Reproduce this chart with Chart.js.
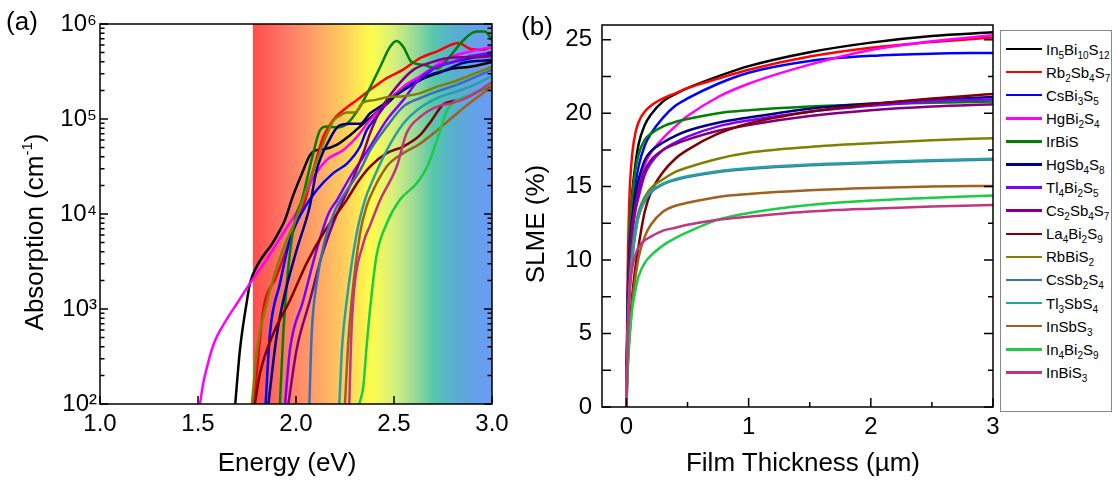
<!doctype html>
<html lang="en">
<head>
<meta charset="utf-8">
<title>Absorption and SLME of ternary sulfides</title>
<style>
  * { margin: 0; padding: 0; }
  body {
    width: 1117px; height: 483px; position: relative; overflow: hidden;
    background: #fff; color: #000;
    font-family: 'Liberation Sans', Arial, sans-serif;
  }
  canvas { position: absolute; top: 0; }
  #chartA { left: 0; }
  #chartB { left: 500px; }
  .lbl {
    position: absolute; font-size: 26px; line-height: 1; white-space: nowrap;
    transform: translate(-50%, -50%);
  }
  .rot { transform: translate(-50%, -50%) rotate(-90deg); }
  .lbl sup { font-size: 15px; position: relative; top: -11px; vertical-align: baseline; }
  #legend {
    position: absolute; left: 1000px; top: 30px; width: 112px; height: 382px;
    border: 1px solid #888; box-sizing: border-box; padding-top: 6.5px;
  }
  .row { height: 23.1px; display: flex; align-items: center; font-size: 15px; line-height: 1; }
  .swatch { display: inline-block; width: 36px; height: 2.5px; margin-left: 5px; margin-right: 4px; }
  .row sub { font-size: 10px; position: relative; top: 4px; vertical-align: baseline; }
</style>
</head>
<body>
  <canvas id="chartB" width="500" height="483"></canvas>
  <canvas id="chartA" width="520" height="483"></canvas>

  <div class="lbl" style="left:22px; top:21px">(a)</div>
  <div class="lbl" style="left:537px; top:26px">(b)</div>
  <div class="lbl rot" style="left:34px; top:232px">Absorption (cm<sup>-1</sup>)</div>
  <div class="lbl" style="left:287px; top:462px">Energy (eV)</div>
  <div class="lbl rot" style="left:535px; top:224px">SLME (%)</div>
  <div class="lbl" style="left:803px; top:462px">Film Thickness (µm)</div>
  <div id="legend"></div>

<script src="https://cdn.jsdelivr.net/npm/chart.js"></script>
<script>
// ---- ticks ----
const energyTicks = [1.0, 1.5, 2.0, 2.5, 3.0];
const absorptionTicks = [1e2, 1e3, 1e4, 1e5, 1e6];
const thicknessTicks = [0, 1, 2, 3];
const slmeTicks = [0, 5, 10, 15, 20, 25];

// ---- compounds (legend order) ----
const compounds = ['In5Bi10S12', 'Rb2Sb4S7', 'CsBi3S5', 'HgBi2S4', 'IrBiS', 'HgSb4S8', 'Tl4Bi2S5',
  'Cs2Sb4S7', 'La4Bi2S9', 'RbBiS2', 'CsSb2S4', 'Tl3SbS4', 'InSbS3', 'In4Bi2S9', 'InBiS3'];
const colors = ['#000000', '#ff0000', '#0000ff', '#ff00ff', '#008000', '#000080', '#8000ff',
  '#800080', '#800000', '#808000', '#3a6fb5', '#26a0a0', '#a0601e', '#1ccc44', '#c03482'];

// ---- (a) absorption, [energy (eV), alpha (cm^-1)] ----
const absIn5Bi10S12 = [[1.69,100],[1.714,372],[1.75,1230],[1.765,1860],[1.80,2820],[1.84,3800],[1.87,4570],[1.918,6760],[1.944,8710],[1.986,1.58e4],[2.037,2.88e4],[2.071,4.17e4],[2.10,4.68e4],[2.14,4.79e4],[2.21,5.37e4],[2.276,6.76e4],[2.343,8.91e4],[2.40,1.12e5],[2.47,1.48e5],[2.547,2.09e5],[2.63,2.57e5],[2.72,3.02e5],[2.80,3.39e5],[2.888,3.55e5],[3.0,3.98e5]];
const absRb2Sb4S7 = [[1.785,100],[1.81,355],[1.833,977],[1.90,2190],[1.969,5370],[2.02,1.0e4],[2.037,1.2e4],[2.088,2.88e4],[2.139,6.46e4],[2.19,9.77e4],[2.24,1.23e5],[2.31,1.58e5],[2.394,2.14e5],[2.463,2.69e5],[2.547,3.31e5],[2.633,4.37e5],[2.718,5.13e5],[2.83,6.31e5],[2.888,5.5e5],[2.95,5.37e5],[3.0,5.75e5]];
const absCsBi3S5 = [[1.845,100],[1.867,550],[1.918,1860],[1.969,5370],[2.037,1.1e4],[2.105,1.78e4],[2.19,2.69e4],[2.26,3.39e4],[2.327,5.13e4],[2.36,7.59e4],[2.41,1.05e5],[2.50,1.78e5],[2.65,2.82e5],[2.72,3.55e5],[2.80,3.98e5],[2.888,4.37e5],[3.0,4.79e5]];
const absHgBi2S4 = [[1.51,100],[1.527,166],[1.545,240],[1.57,372],[1.59,479],[1.62,631],[1.655,832],[1.70,1150],[1.765,1860],[1.85,3310],[1.935,6310],[2.02,1.2e4],[2.08,2.24e4],[2.157,3.72e4],[2.24,4.68e4],[2.31,6.46e4],[2.378,9.77e4],[2.463,1.48e5],[2.547,2.19e5],[2.633,2.82e5],[2.72,3.72e5],[2.80,4.57e5],[2.888,5.13e5],[3.0,5.75e5]];
const absIrBiS = [[1.918,100],[1.935,550],[1.961,2750],[1.995,8710],[2.03,1.41e4],[2.06,2.51e4],[2.088,4.37e4],[2.122,7.59e4],[2.157,8.32e4],[2.21,8.13e4],[2.26,8.91e4],[2.327,1.35e5],[2.378,2.14e5],[2.43,3.55e5],[2.48,5.75e5],[2.514,6.61e5],[2.547,5.75e5],[2.59,3.98e5],[2.65,3.72e5],[2.72,3.39e5],[2.786,4.57e5],[2.854,6.76e5],[2.92,8.32e5],[2.964,8.32e5],[3.0,6.76e5]];
const absHgSb4S8 = [[1.859,100],[1.90,500],[1.935,1230],[2.003,4170],[2.07,1.2e4],[2.105,2.88e4],[2.17,6.03e4],[2.22,8.51e4],[2.276,8.91e4],[2.327,8.91e4],[2.378,1.15e5],[2.43,1.35e5],[2.51,1.78e5],[2.60,2.34e5],[2.68,2.88e5],[2.77,3.31e5],[2.85,3.89e5],[3.0,4.17e5]];
const absTl4Bi2S5 = [[1.944,100],[1.969,372],[2.037,1230],[2.105,4170],[2.165,1.0e4],[2.21,1.41e4],[2.276,2.45e4],[2.343,3.98e4],[2.378,5.13e4],[2.463,9.77e4],[2.547,1.58e5],[2.633,2.69e5],[2.72,3.55e5],[2.80,3.98e5],[2.888,4.57e5],[3.0,5.01e5]];
const absCs2Sb4S7 = [[1.961,100],[2.003,372],[2.071,1230],[2.13,3550],[2.18,7080],[2.23,1.26e4],[2.276,2.0e4],[2.343,4.37e4],[2.378,7.08e4],[2.43,1.23e5],[2.514,2.19e5],[2.60,3.31e5],[2.68,3.89e5],[2.77,4.37e5],[2.888,4.47e5],[3.0,4.57e5]];
const absLa4Bi2S9 = [[1.79,100],[1.816,209],[1.884,550],[1.969,1230],[2.054,3020],[2.14,6310],[2.259,1.41e4],[2.32,2.24e4],[2.378,3.16e4],[2.463,4.37e4],[2.547,5.13e4],[2.633,6.76e4],[2.69,9.55e4],[2.75,1.41e5],[2.82,1.58e5],[2.888,1.78e5],[3.0,2.29e5]];
const absRbBiS2 = [[1.775,100],[1.80,355],[1.85,1150],[1.927,3890],[2.0,8910],[2.088,2.88e4],[2.15,6.31e4],[2.19,9.55e4],[2.22,1.07e5],[2.26,1.17e5],[2.30,1.17e5],[2.34,1.48e5],[2.40,1.58e5],[2.47,1.7e5],[2.55,1.74e5],[2.63,1.86e5],[2.72,2.19e5],[2.80,2.45e5],[2.888,2.88e5],[3.0,3.55e5]];
const absCsSb2S4 = [[2.068,100],[2.08,550],[2.105,1860],[2.148,5370],[2.2,1.1e4],[2.26,1.78e4],[2.327,2.88e4],[2.378,4.68e4],[2.463,8.32e4],[2.547,1.35e5],[2.633,1.66e5],[2.72,1.95e5],[2.82,2.29e5],[3.0,3.31e5]];
const absTl3SbS4 = [[2.221,100],[2.235,398],[2.259,1230],[2.31,6310],[2.352,1.41e4],[2.378,1.95e4],[2.463,4.68e4],[2.547,8.91e4],[2.615,1.23e5],[2.72,1.66e5],[2.82,1.95e5],[2.888,2.19e5],[3.0,2.82e5]];
const absInSbS3 = [[2.25,100],[2.265,398],[2.284,1230],[2.327,6310],[2.36,1.2e4],[2.378,1.51e4],[2.463,3.16e4],[2.547,4.37e4],[2.633,5.5e4],[2.72,7.59e4],[2.80,1.05e5],[2.888,1.48e5],[3.0,2.19e5]];
const absIn4Bi2S9 = [[2.323,100],[2.343,151],[2.36,398],[2.378,1000],[2.41,3550],[2.463,7940],[2.53,1.41e4],[2.615,2.09e4],[2.67,3.16e4],[2.72,6.03e4],[2.77,1.23e5],[2.82,1.58e5],[2.888,1.78e5],[3.0,2.34e5]];
const absInBiS3 = [[2.272,100],[2.28,398],[2.292,1230],[2.343,4900],[2.378,7590],[2.43,1.41e4],[2.514,3.16e4],[2.564,7.08e4],[2.633,1.05e5],[2.72,1.35e5],[2.80,1.48e5],[2.888,1.74e5],[3.0,2.45e5]];
const absorption = [absIn5Bi10S12, absRb2Sb4S7, absCsBi3S5, absHgBi2S4, absIrBiS, absHgSb4S8, absTl4Bi2S5,
  absCs2Sb4S7, absLa4Bi2S9, absRbBiS2, absCsSb2S4, absTl3SbS4, absInSbS3, absIn4Bi2S9, absInBiS3];

// ---- (b) SLME (%) vs film thickness (um) ----
const thickness = [0, 0.005, 0.01, 0.02, 0.03, 0.05, 0.075, 0.1, 0.15, 0.2, 0.3, 0.4, 0.5, 0.75, 1, 1.5, 2, 2.5, 3];
const slmeIn5Bi10S12 = [0, 4, 7, 10.5, 12.5, 14.8, 16.6, 17.9, 19.2, 19.9, 20.8, 21.3, 21.7, 22.5, 23.2, 24.15, 24.8, 25.25, 25.5];
const slmeRb2Sb4S7 = [0, 5, 9, 13, 15.3, 17.4, 18.7, 19.4, 20.1, 20.5, 21.0, 21.35, 21.7, 22.35, 22.95, 23.85, 24.45, 24.85, 25.15];
const slmeCsBi3S5 = [0, 3.5, 6.5, 9.5, 11.5, 13.5, 15.2, 16.4, 17.8, 18.6, 19.7, 20.5, 21.0, 22.0, 22.75, 23.55, 23.9, 24.05, 24.1];
const slmeHgBi2S4 = [0, 3, 5.5, 8, 9.8, 12, 13.8, 15.0, 16.5, 17.3, 18.3, 19.1, 19.8, 21.1, 22.0, 23.3, 24.3, 24.9, 25.3];
const slmeIrBiS = [0, 4, 7, 10.5, 12.5, 14.5, 16.2, 17.2, 18.2, 18.6, 19.1, 19.4, 19.6, 20.0, 20.2, 20.45, 20.6, 20.7, 20.8];
const slmeHgSb4S8 = [0, 3.5, 6.5, 9.5, 11.3, 13, 14.6, 15.5, 16.8, 17.4, 18.0, 18.45, 18.8, 19.35, 19.7, 20.3, 20.65, 20.9, 21.1];
const slmeTl4Bi2S5 = [0, 3, 5.5, 8.5, 10.2, 12, 13.4, 14.3, 15.8, 16.6, 17.5, 18.0, 18.4, 19.1, 19.5, 20.1, 20.5, 20.8, 20.95];
const slmeCs2Sb4S7 = [0, 3, 6, 9, 10.8, 12.5, 13.9, 14.8, 16.1, 16.8, 17.5, 17.9, 18.2, 18.8, 19.2, 19.8, 20.2, 20.45, 20.6];
const slmeLa4Bi2S9 = [0, 1.5, 2.8, 4.5, 5.8, 7.8, 9.6, 11.0, 13.3, 14.6, 16.0, 16.9, 17.5, 18.6, 19.3, 20.1, 20.6, 21.0, 21.3];
const slmeRbBiS2 = [0, 2.5, 4.5, 7, 8.7, 10.8, 12.3, 13.3, 14.3, 14.9, 15.5, 16.0, 16.3, 16.9, 17.3, 17.7, 17.95, 18.15, 18.3];
const slmeCsSb2S4 = [0, 2.5, 4.5, 7, 8.5, 10.3, 11.9, 13.0, 14.0, 14.6, 15.15, 15.45, 15.65, 16.0, 16.2, 16.45, 16.6, 16.75, 16.85];
const slmeTl3SbS4 = [0, 2.5, 4.5, 7, 8.5, 10.3, 11.9, 13.0, 14.1, 14.7, 15.2, 15.5, 15.7, 16.05, 16.25, 16.5, 16.65, 16.8, 16.9];
const slmeInSbS3 = [0, 1.5, 2.5, 4, 5.3, 7.3, 8.9, 10.2, 11.6, 12.4, 13.3, 13.7, 13.9, 14.3, 14.5, 14.75, 14.9, 15.0, 15.05];
const slmeIn4Bi2S9 = [0, 1.5, 2.8, 4.2, 5.2, 6.8, 8.0, 8.9, 9.8, 10.3, 11.0, 11.5, 11.9, 12.75, 13.2, 13.75, 14.05, 14.25, 14.4];
const slmeInBiS3 = [0, 2.5, 4.5, 6.8, 8.2, 9.6, 10.4, 10.9, 11.35, 11.6, 12.0, 12.2, 12.4, 12.75, 12.95, 13.3, 13.5, 13.65, 13.75];
const slme = [slmeIn5Bi10S12, slmeRb2Sb4S7, slmeCsBi3S5, slmeHgBi2S4, slmeIrBiS, slmeHgSb4S8, slmeTl4Bi2S5,
  slmeCs2Sb4S7, slmeLa4Bi2S9, slmeRbBiS2, slmeCsSb2S4, slmeTl3SbS4, slmeInSbS3, slmeIn4Bi2S9, slmeInBiS3];

// ---- shared styling ----
const tickFont = { family: "'Liberation Sans', Arial, sans-serif", size: 24 };
const sup = { 2: '\u00b2', 3: '\u00b3', 4: '\u2074', 5: '\u2075', 6: '\u2076' };

// visible-spectrum band behind panel (a)
const bandStart = 1.78;
const bandStops = [[1.78, '#ff4d4d'], [1.95, '#ff7a66'], [2.1, '#ffa268'], [2.25, '#ffcf5c'],
  [2.38, '#fffd4c'], [2.5, '#d6ef7c'], [2.6, '#9edc96'], [2.7, '#57c7ad'], [2.8, '#56b1cd'],
  [2.9, '#63a2e6'], [3.0, '#6b9bf8']];

const rainbow = {
  id: 'rainbow',
  beforeDatasetsDraw(chart) {
    const { ctx, chartArea: a, scales: { x } } = chart;
    const x0 = x.getPixelForValue(bandStart);
    const g = ctx.createLinearGradient(x0, 0, a.right, 0);
    bandStops.forEach(([e, c]) => g.addColorStop((e - bandStart) / (3 - bandStart), c));
    ctx.save();
    ctx.fillStyle = g;
    ctx.fillRect(x0, a.top, a.right - x0, a.bottom - a.top);
    ctx.restore();
  }
};

// box + inward tick marks, [value, length] lists per side
function makeFrame(spec) {
  return {
    id: 'frame',
    afterDatasetsDraw(chart) {
      const { ctx, chartArea: a, scales: { x, y } } = chart;
      ctx.save();
      ctx.strokeStyle = '#000';
      ctx.lineWidth = 1.5;
      ctx.beginPath();
      spec.bottom.forEach(([v, len]) => { const p = x.getPixelForValue(v); ctx.moveTo(p, a.bottom); ctx.lineTo(p, a.bottom - len); });
      spec.left.forEach(([v, len]) => { const p = y.getPixelForValue(v); ctx.moveTo(a.left, p); ctx.lineTo(a.left + len, p); });
      spec.right.forEach(([v, len]) => { const p = y.getPixelForValue(v); ctx.moveTo(a.right, p); ctx.lineTo(a.right - len, p); });
      ctx.stroke();
      ctx.strokeRect(a.left, a.top, a.right - a.left, a.bottom - a.top);
      ctx.restore();
    }
  };
}

function axis(extra, fit) {
  return Object.assign({
    grid: { display: false, drawTicks: false },
    border: { display: false },
    afterFit: fit
  }, extra);
}

// order: later compounds drawn on top
const lineStyle = (i) => ({
  borderColor: colors[i], borderWidth: 2.5, pointRadius: 0,
  cubicInterpolationMode: 'monotone', order: compounds.length - i
});

// ---- panel (a) ----
const logMinor = [];
for (let n = 2; n < 6; n++) for (let k = 1; k < 10; k++) logMinor.push([k * Math.pow(10, n), k === 1 ? 8 : 4.5]);
logMinor.push([1e6, 8]);

new Chart(document.getElementById('chartA'), {
  type: 'line',
  data: {
    datasets: compounds.map((name, i) => Object.assign({
      label: name,
      data: absorption[i].map(([x, y]) => ({ x, y }))
    }, lineStyle(i)))
  },
  options: {
    responsive: false, animation: false,
    layout: { padding: { top: 24, right: 28, left: 0, bottom: 0 } },
    plugins: { legend: { display: false }, tooltip: { enabled: false } },
    scales: {
      x: axis({
        type: 'linear', min: 1, max: 3,
        afterBuildTicks: s => { s.ticks = energyTicks.map(v => ({ value: v })); },
        ticks: { font: tickFont, color: '#000', padding: 6, maxRotation: 0, autoSkip: false, callback: v => v.toFixed(1) }
      }, s => { s.height = 79; s.paddingLeft = 0; s.paddingRight = 0; }),
      y: axis({
        type: 'logarithmic', min: 1e2, max: 1e6,
        afterBuildTicks: s => { s.ticks = absorptionTicks.map(v => ({ value: v })); },
        ticks: { font: tickFont, color: '#000', padding: 3, autoSkip: false, callback: v => '10' + sup[Math.round(Math.log10(v))] }
      }, s => { s.width = 100; s.paddingTop = 0; s.paddingBottom = 0; })
    }
  },
  plugins: [rainbow, makeFrame({
    bottom: energyTicks.map(v => [v, 8]),
    left: logMinor,
    right: logMinor
  })]
});

// ---- panel (b) ----
new Chart(document.getElementById('chartB'), {
  type: 'line',
  data: {
    datasets: compounds.map((name, i) => Object.assign({
      label: name,
      data: thickness.map((t, j) => ({ x: t, y: slme[i][j] }))
    }, lineStyle(i)))
  },
  options: {
    responsive: false, animation: false,
    layout: { padding: { top: 25, right: 7, left: 0, bottom: 0 } },
    plugins: { legend: { display: false }, tooltip: { enabled: false } },
    scales: {
      x: axis({
        type: 'linear', min: -0.2, max: 3,
        afterBuildTicks: s => { s.ticks = thicknessTicks.map(v => ({ value: v })); },
        ticks: { font: tickFont, color: '#000', padding: 6, maxRotation: 0, autoSkip: false }
      }, s => { s.height = 76; s.paddingLeft = 0; s.paddingRight = 0; }),
      y: axis({
        type: 'linear', min: 0, max: 26,
        afterBuildTicks: s => { s.ticks = slmeTicks.map(v => ({ value: v })); },
        ticks: { font: tickFont, color: '#000', padding: 10, autoSkip: false }
      }, s => { s.width = 102; s.paddingTop = 0; s.paddingBottom = 0; })
    }
  },
  plugins: [makeFrame({
    bottom: [[0, 9], [0.5, 5], [1, 9], [1.5, 5], [2, 9], [2.5, 5], [3, 9]],
    left: [0, 2.5, 5, 7.5, 10, 12.5, 15, 17.5, 20, 22.5, 25].map(v => [v, 9]),
    right: [0, 2.5, 5, 7.5, 10, 12.5, 15, 17.5, 20, 22.5, 25].map(v => [v, v % 5 ? 5 : 9])
  })]
});

// ---- legend (subscripted formulas) ----
const legend = document.getElementById('legend');
compounds.forEach((name, i) => {
  const row = document.createElement('div');
  row.className = 'row';
  row.innerHTML = '<span class="swatch" style="background:' + colors[i] + '"></span>' +
    '<span>' + name.replace(/(\d+)/g, '<sub>$1</sub>') + '</span>';
  legend.appendChild(row);
});
</script>
</body>
</html>
